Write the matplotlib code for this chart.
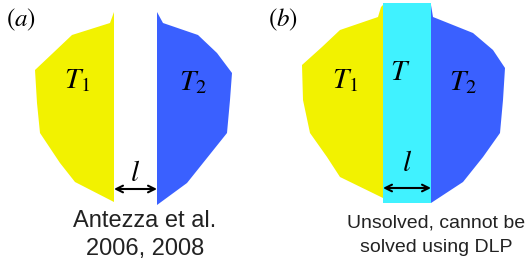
import matplotlib
matplotlib.use('Agg')
from matplotlib import pyplot as plt
from matplotlib.patches import Polygon, Rectangle

plt.rcParams['mathtext.fontset'] = 'stix'

# outline vertices of the coloured half-bodies, in pixel coordinates
yellow_a = [(114, 12), (110, 23), (72, 35), (53, 53), (35, 70), (37, 103),
            (40, 133), (60, 163), (75, 182), (114, 202)]
blue_a = [(157, 12), (163, 23), (198, 35), (217, 53), (232, 73), (230, 100),
          (227, 133), (203, 163), (187, 183), (157, 205)]
yellow_b = [(383, 5), (381, 7), (378, 17), (340, 30), (322, 47), (302, 65),
            (303, 100), (310, 133), (327, 157), (340, 177), (383, 198)]
blue_b = [(431, 5), (433, 17), (473, 33), (493, 50), (505, 68), (503, 100),
          (500, 133), (483, 157), (463, 182), (431, 203)]
gap_b = (383, 3, 48, 200)  # x, y, width, height of the middle slab

captions = ['Antezza et al.\n2006, 2008', 'Unsolved, cannot be\nsolved using DLP']

YELLOW = '#f2f200'
BLUE = '#3a60ff'
CYAN = '#40f2ff'

fig = plt.figure(figsize=(5.27, 2.62), dpi=100)
ax = fig.add_axes([0, 0, 1, 1])
ax.set_xlim(0, 527)
ax.set_ylim(262, 0)
ax.axis('off')

ax.add_patch(Polygon(yellow_a, closed=True, fc=YELLOW, ec='none'))
ax.add_patch(Polygon(blue_a, closed=True, fc=BLUE, ec='none'))
ax.add_patch(Polygon(yellow_b, closed=True, fc=YELLOW, ec='none'))
ax.add_patch(Polygon(blue_b, closed=True, fc=BLUE, ec='none'))
ax.add_patch(Rectangle(gap_b[:2], gap_b[2], gap_b[3], fc=CYAN, ec='none'))

# panel labels
ax.text(6, 20, r'$(a)$', fontsize=18, va='center', ha='left')
ax.text(268, 20, r'$(b)$', fontsize=18, va='center', ha='left')

# temperatures
ax.text(77, 80, r'$T_1$', fontsize=21, ha='center', va='center')
ax.text(193, 82, r'$T_2$', fontsize=21, ha='center', va='center')
ax.text(345, 80, r'$T_1$', fontsize=21, ha='center', va='center')
ax.text(400, 72, r'$T$', fontsize=21, ha='center', va='center')
ax.text(463, 82, r'$T_2$', fontsize=21, ha='center', va='center')

# gap width arrows
for x0, x1, y, ly in [(114, 157, 189, 173), (383, 431, 188, 163)]:
    ax.annotate('', xy=(x0, y), xytext=(x1, y),
                arrowprops=dict(arrowstyle='<->', color='black', lw=1.5,
                                mutation_scale=12, shrinkA=0, shrinkB=0))
    ax.text((x0 + x1) / 2, ly, r'$l$', fontsize=21, ha='center', va='center')

ax.text(145, 235, captions[0], fontsize=17, ha='center', va='center',
        family='Liberation Sans', color='#222222', linespacing=1.3)
ax.text(436, 235, captions[1], fontsize=14, ha='center', va='center',
        family='Liberation Sans', color='#222222', linespacing=1.55)

fig.savefig('out.png', dpi=100)
